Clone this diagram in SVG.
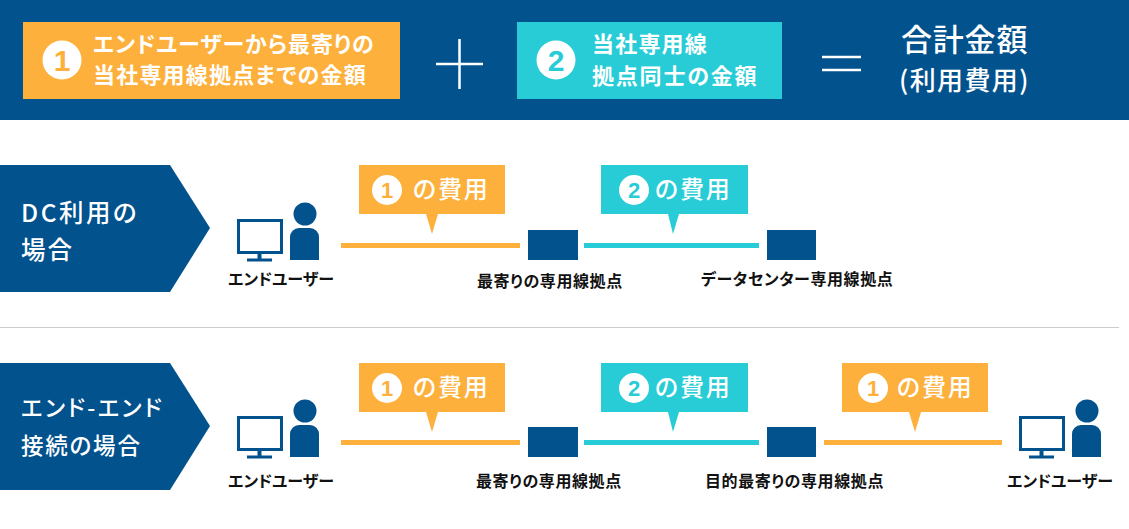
<svg xmlns="http://www.w3.org/2000/svg" width="1129" height="529" viewBox="0 0 1129 529">
<style>
text{font-family:"Noto Sans CJK JP","Noto Sans",sans-serif;font-feature-settings:"palt"}
.n{fill:#02528e}.o{fill:#fdb03b}.t{fill:#28ccd6}
.h{fill:#fff;font-size:22px;font-weight:700;letter-spacing:1.2px}
.l{fill:#fff;font-size:22.500px;font-weight:500;letter-spacing:1.800px}
.b{font-size:24.500px}
.c{fill:#fff;font-size:24px;font-weight:500;letter-spacing:1.800px}
.s{fill:#111;font-size:16px;font-weight:700}
.w{letter-spacing:.6px}
.m{font-family:"Liberation Sans",sans-serif;font-weight:700;text-anchor:middle}
</style>
<defs>
<g id="user">
<rect x="238.500" y="220.500" width="43" height="32" fill="#fff" stroke="#02528e" stroke-width="3"/>
<path class="n" d="M257.500 254h4v6h-4zM247 258.500h25v3h-25z"/>
<circle class="n" cx="305" cy="214" r="11.500"/>
<path class="n" d="M290 260v-23a9 9 0 0 1 9-9h11a9 9 0 0 1 9 9v23z"/>
</g>
</defs>
<g id="header">
<rect class="n" x="0" y="0" width="1129" height="120"/>
<rect class="o" x="23" y="22" width="377" height="77"/>
<circle cx="62" cy="60" r="19.500" fill="#fff"/>
<text class="m" x="62" y="71" font-size="30" fill="#fdb03b">1</text>
<text class="h" x="93" y="52" style="letter-spacing:.9px">エンドユーザーから最寄りの</text>
<text class="h" x="93" y="83">当社専用線拠点までの金額</text>
<path d="M436 64h47M459.500 39v50" stroke="#fff" stroke-width="2.500" fill="none"/>
<rect class="t" x="517" y="22" width="265" height="77"/>
<circle cx="556" cy="60" r="19.500" fill="#fff"/>
<text class="m" x="556" y="71" font-size="30" fill="#28ccd6">2</text>
<text class="h" x="592" y="52">当社専用線</text>
<text class="h" x="592" y="84" style="letter-spacing:1.800px">拠点同士の金額</text>
<path d="M822 57h39M822 70h39" stroke="#fff" stroke-width="2.500" fill="none"/>
<text x="901" y="51" fill="#fff" font-size="31" font-weight="500" letter-spacing=".8">合計金額</text>
<text x="899" y="90" fill="#fff" font-size="26" font-weight="500" letter-spacing="1.400">(利用費用)</text>
</g>
<g id="connectors">
<rect class="o" x="341" y="243" width="179" height="5"/>
<rect class="t" x="584" y="243" width="175" height="5"/>
<rect class="o" x="341" y="440" width="179" height="5"/>
<rect class="t" x="584" y="440" width="175" height="5"/>
<rect class="o" x="824" y="440" width="178" height="5"/>
</g>
<g id="dc-label">
<path class="n" d="M0 165H170L210 228L170 292H0Z"/>
<text class="l b" x="21" y="222" style="letter-spacing:2.500px">DC利用の</text>
<text class="l b" x="21" y="259" style="letter-spacing:2px">場合</text>
</g>
<g id="dc-user"><use href="#user"/><text class="s" x="228" y="285">エンドユーザー</text></g>
<g id="dc-cost1">
<path class="o" d="M359 165H505V214H438L432 234L426 214H359Z"/>
<circle cx="387" cy="190" r="15" fill="#fff"/><text class="m" x="387" y="198" font-size="22" fill="#fdb03b">1</text>
<text class="c" x="413" y="198">の費用</text>
</g>
<g id="dc-cost2">
<path class="t" d="M601 165H748V214H679L673 234L668 214H601Z"/>
<circle cx="634" cy="190" r="15" fill="#fff"/><text class="m" x="634" y="198" font-size="22" fill="#28ccd6">2</text>
<text class="c" x="655" y="198">の費用</text>
</g>
<g id="dc-site1"><rect class="n" x="528" y="230" width="50" height="30"/><text class="s w" x="477" y="287">最寄りの専用線拠点</text></g>
<g id="dc-site2"><rect class="n" x="767" y="230" width="49" height="30"/><text class="s w" x="701" y="285">データセンター専用線拠点</text></g>
<rect id="divider" x="0" y="327" width="1119" height="1" fill="#ccc"/>
<g id="ee-label">
<path class="n" d="M0 363H170L210 426L170 490H0Z"/>
<text class="l" x="21" y="416" style="letter-spacing:2.300px">エンド-エンド</text>
<text class="l" x="21" y="454">接続の場合</text>
</g>
<g id="ee-user1"><use href="#user" y="197"/><text class="s" x="228" y="487">エンドユーザー</text></g>
<g id="ee-cost1">
<path class="o" d="M359 363H505V412H438L432 432L426 412H359Z"/>
<circle cx="387" cy="388" r="15" fill="#fff"/><text class="m" x="387" y="396" font-size="22" fill="#fdb03b">1</text>
<text class="c" x="413" y="396">の費用</text>
</g>
<g id="ee-cost2">
<path class="t" d="M601 363H748V412H679L673 432L668 412H601Z"/>
<circle cx="634" cy="388" r="15" fill="#fff"/><text class="m" x="634" y="396" font-size="22" fill="#28ccd6">2</text>
<text class="c" x="655" y="396">の費用</text>
</g>
<g id="ee-cost3">
<path class="o" d="M842 363H988V412H921L915 432L909 412H842Z"/>
<circle cx="873" cy="388" r="15" fill="#fff"/><text class="m" x="873" y="396" font-size="22" fill="#fdb03b">1</text>
<text class="c" x="897" y="396">の費用</text>
</g>
<g id="ee-site1"><rect class="n" x="528" y="427" width="50" height="30"/><text class="s w" x="476" y="487">最寄りの専用線拠点</text></g>
<g id="ee-site2"><rect class="n" x="767" y="427" width="49" height="30"/><text class="s w" x="705" y="487">目的最寄りの専用線拠点</text></g>
<g id="ee-user2"><use href="#user" x="782" y="197"/><text class="s" x="1007" y="487">エンドユーザー</text></g>
</svg>
